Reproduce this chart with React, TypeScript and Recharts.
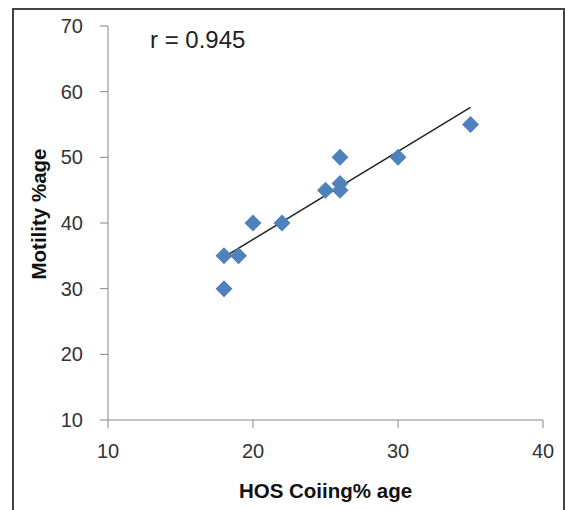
import { ScatterChart, Scatter, XAxis, YAxis, ReferenceLine, Label } from "recharts";

// HOS coiling %age vs motility %age
const coilingX = [18, 18, 19, 20, 22, 25, 26, 26, 26, 30, 35];
const motilityY = [30, 35, 35, 40, 40, 45, 45, 46, 50, 50, 55];
const xTicks = [10, 20, 30, 40];
const yTicks = [10, 20, 30, 40, 50, 60, 70];
// linear trendline end points
const trendX = [18, 35];
const trendY = [34.8, 57.6];

const points = coilingX.map((x, i) => ({ x, y: motilityY[i] }));

const FONT = "'Liberation Sans', Arial, sans-serif";
const AXIS = "#868686";

function Diamond(props: { cx?: number; cy?: number }) {
  const { cx = 0, cy = 0 } = props;
  const r = 8.5;
  return (
    <polygon
      points={`${cx},${cy - r} ${cx + r},${cy} ${cx},${cy + r} ${cx - r},${cy}`}
      fill="#4F81BD"
    />
  );
}

export default function App() {
  return (
    <div style={{ position: "absolute", left: 0, top: 0, width: 565, height: 510, background: "#fff", overflow: "hidden" }}>
      <div
        style={{
          position: "absolute",
          left: 12,
          top: 8,
          width: 549,
          height: 520,
          border: "2px solid #444",
        }}
      />
      <ScatterChart
        width={565}
        height={510}
        margin={{ top: 26, right: 22, bottom: 0, left: 0 }}
        style={{ position: "absolute", left: 0, top: 0, fontFamily: FONT }}
      >
        <XAxis
          type="number"
          dataKey="x"
          domain={[10, 40]}
          ticks={xTicks}
          height={90}
          tickSize={8}
          tickMargin={16}
          stroke={AXIS}
          tick={{ fill: "#333", fontSize: 20, fontFamily: FONT }}
        >
          <Label
            content={({ viewBox }: any) => (
              <text
                x={viewBox.x + viewBox.width / 2}
                y={viewBox.y + 78}
                textAnchor="middle"
                fontSize={20.5}
                fontWeight="bold"
                fontFamily={FONT}
                fill="#111"
              >
                HOS Coiing% age
              </text>
            )}
          />
        </XAxis>
        <YAxis
          type="number"
          dataKey="y"
          domain={[10, 70]}
          ticks={yTicks}
          width={108}
          tickSize={8}
          tickMargin={17}
          stroke={AXIS}
          tick={{ fill: "#333", fontSize: 20, fontFamily: FONT }}
        >
          <Label
            content={({ viewBox }: any) => {
              const x = viewBox.x + 46;
              const y = viewBox.y + viewBox.height / 2 - 9;
              return (
                <text
                  x={x}
                  y={y}
                  transform={`rotate(-90 ${x} ${y})`}
                  textAnchor="middle"
                  fontSize={20.5}
                  fontWeight="bold"
                  fontFamily={FONT}
                  fill="#111"
                >
                  Motility %age
                </text>
              );
            }}
          />
        </YAxis>
        <Scatter data={points} shape={<Diamond />} isAnimationActive={false} />
        <ReferenceLine
          segment={[
            { x: trendX[0], y: trendY[0] },
            { x: trendX[1], y: trendY[1] },
          ]}
          stroke="#222"
          strokeWidth={1.5}
        />
      </ScatterChart>
      <div
        style={{
          position: "absolute",
          left: 150,
          top: 28,
          fontFamily: FONT,
          fontSize: 24,
          color: "#222",
          lineHeight: 1,
          whiteSpace: "nowrap",
        }}
      >
        r = 0.945
      </div>
    </div>
  );
}
